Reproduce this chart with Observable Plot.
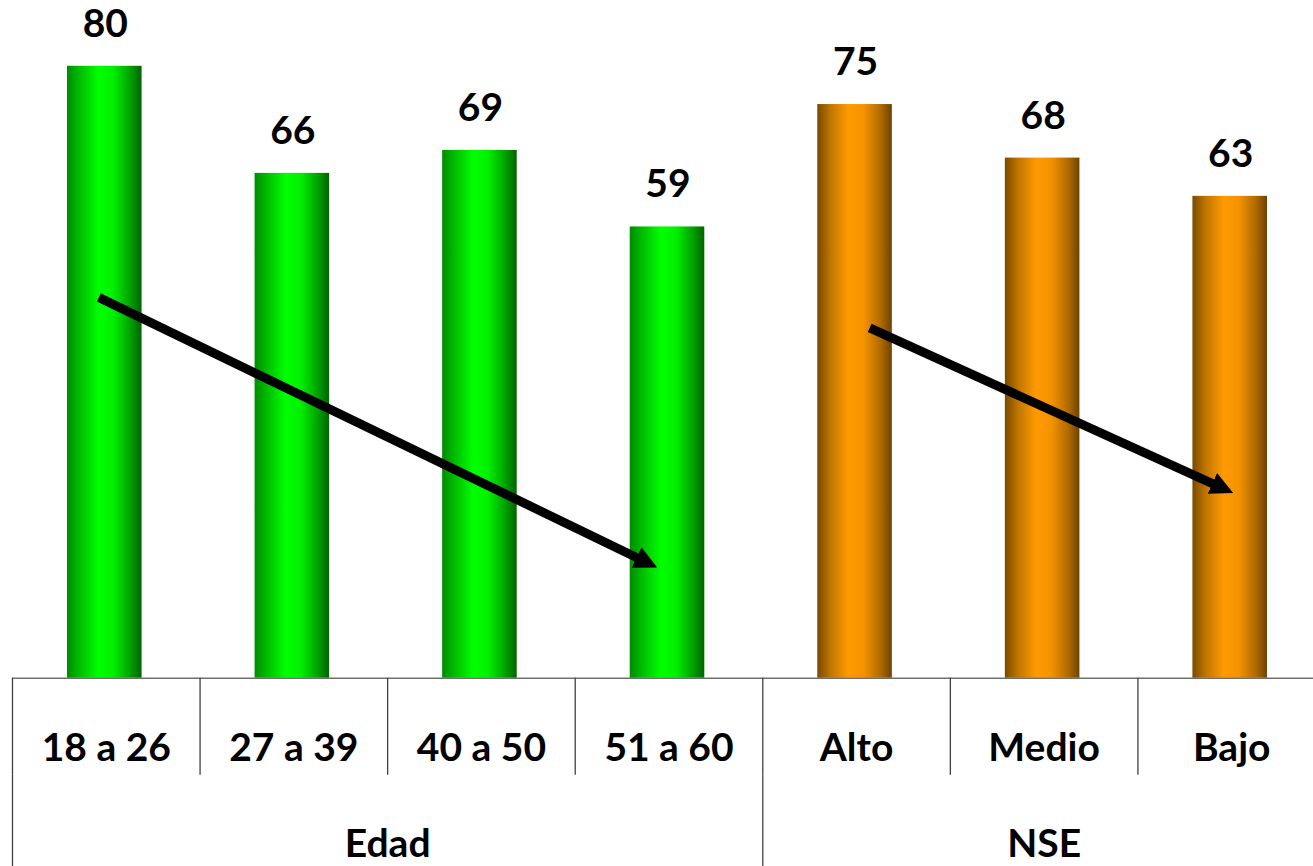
<!DOCTYPE html>
<html>
<head>
<meta charset="utf-8">
<script src="https://cdn.jsdelivr.net/npm/d3@7"></script>
<script src="https://cdn.jsdelivr.net/npm/@observablehq/plot@0.6"></script>
<style>
  html, body { margin: 0; padding: 0; background: #fff; }
  #chart svg { display: block; font-family: Lato, "Open Sans", sans-serif; }
</style>
</head>
<body>
<div id="chart"></div>
<script>
// ---- data ----
const categories = ["18 a 26", "27 a 39", "40 a 50", "51 a 60", "Alto", "Medio", "Bajo"];
const values = [80, 66, 69, 59, 75, 68, 63];
const groupOf = ["Edad", "Edad", "Edad", "Edad", "NSE", "NSE", "NSE"];
const groupNames = ["Edad", "NSE"];
const groupStart = [0, 4];   // index of first category in each group
const groupEnd = [4, 7];
// trend arrows, in (category position, value) units: start -> shaft end
const trendX1 = [0.46, 4.57];
const trendY1 = [49.8, 45.8];
const trendX2 = [3.36, 6.43];
const trendY2 = [15.4, 25.1];

const data = categories.map((c, i) => ({ i, category: c, value: values[i], group: groupOf[i] }));
const edad = data.filter(d => d.group === "Edad");
const nse = data.filter(d => d.group === "NSE");
const trends = trendX1.map((x, i) => ({ x1: x, y1: trendY1[i], x2: trendX2[i], y2: trendY2[i] }));
const groups = groupNames.map((g, i) => ({ name: g, start: groupStart[i], end: groupEnd[i] }));
const edges = d3.range(categories.length + 1);

// scale: 0 at baseline, table rows below it
const yTop = 88.6, yBottom = -24.6;
const px = (866) / (yTop - yBottom);   // pixels per unit
const rowSplit = -97 / px;              // boundary between label row and group row

const font = 39;

const chart = Plot.plot({
  width: 1313,
  height: 866,
  marginTop: 0, marginBottom: 0, marginLeft: 0, marginRight: 0,
  x: { type: "linear", domain: [0, categories.length], range: [12, 12 + 187.57 * categories.length], axis: null },
  y: { type: "linear", domain: [yBottom, yTop], range: [866, 0], axis: null },
  marks: [
    // bars
    Plot.rectY(edad, { x1: d => d.i, x2: d => d.i + 1, y1: 0, y2: "value", insetLeft: 55, insetRight: 58, fill: "url(#gradGreen)" }),
    Plot.rectY(nse, { x1: d => d.i, x2: d => d.i + 1, y1: 0, y2: "value", insetLeft: 55, insetRight: 58, fill: "url(#gradOrange)" }),
    // value labels
    Plot.text(data, { x: d => d.i + 0.5, y: "value", text: d => String(d.value), dx: -1, dy: -42, lineAnchor: "middle", fontSize: font, fontWeight: "bold", fill: "#000" }),
    // table: baseline
    Plot.ruleY([0], { x1: 0, x2: categories.length, stroke: "#707070", strokeWidth: 1.5 }),
    // table: category row separators
    Plot.ruleX(edges, { x: d => d, y1: 0, y2: rowSplit, stroke: "#404040", strokeWidth: 1.3 }),
    // table: group row separators
    Plot.ruleX(groupStart.concat([categories.length]), { x: d => d, y1: rowSplit, y2: yBottom, stroke: "#404040", strokeWidth: 1.3 }),
    // category labels
    Plot.text(data, { x: d => d.i + 0.5, y: 0, text: "category", dy: 70, lineAnchor: "middle", fontSize: font, fontWeight: "bold", fill: "#000" }),
    // group labels
    Plot.text(groups, { x: d => (d.start + d.end) / 2, y: 0, text: "name", dy: 166, lineAnchor: "middle", fontSize: font, fontWeight: "bold", fill: "#000" }),
    // trend arrows
    Plot.link(trends, { x1: "x1", y1: "y1", x2: "x2", y2: "y2", stroke: "#000", strokeWidth: 9, strokeLinecap: "butt" })
  ]
});

// gradients + arrowhead marker
const svg = d3.select(chart);
const defs = svg.insert("defs", ":first-child");
function grad(id, stops) {
  const g = defs.append("linearGradient").attr("id", id).attr("x1", "0").attr("x2", "1").attr("y1", "0").attr("y2", "0");
  stops.forEach(([o, c]) => g.append("stop").attr("offset", o).attr("stop-color", c));
}
grad("gradGreen", [[0, "#008c00"], [0.18, "#00c000"], [0.42, "#00ff00"], [0.62, "#00f000"], [0.85, "#00a000"], [1, "#006400"]]);
grad("gradOrange", [[0, "#7a4a00"], [0.18, "#c07600"], [0.42, "#ff9a00"], [0.62, "#f59300"], [0.85, "#b06a00"], [1, "#6e4300"]]);
defs.append("marker")
  .attr("id", "arrowHead")
  .attr("viewBox", "0 0 10 10")
  .attr("refX", 3).attr("refY", 5)
  .attr("markerWidth", 2.55).attr("markerHeight", 2.55)
  .attr("markerUnits", "strokeWidth")
  .attr("orient", "auto")
  .append("path").attr("d", "M0,0L10,5L0,10Z").attr("fill", "#000");
svg.selectAll('g[aria-label="link"] path').attr("marker-end", "url(#arrowHead)");
// make sure gradient fills are applied
svg.selectAll('g[aria-label="rect"]').each(function (_, k) {
  d3.select(this).selectAll("rect").attr("fill", k === 0 ? "url(#gradGreen)" : "url(#gradOrange)");
});

document.getElementById("chart").appendChild(chart);
</script>
</body>
</html>
